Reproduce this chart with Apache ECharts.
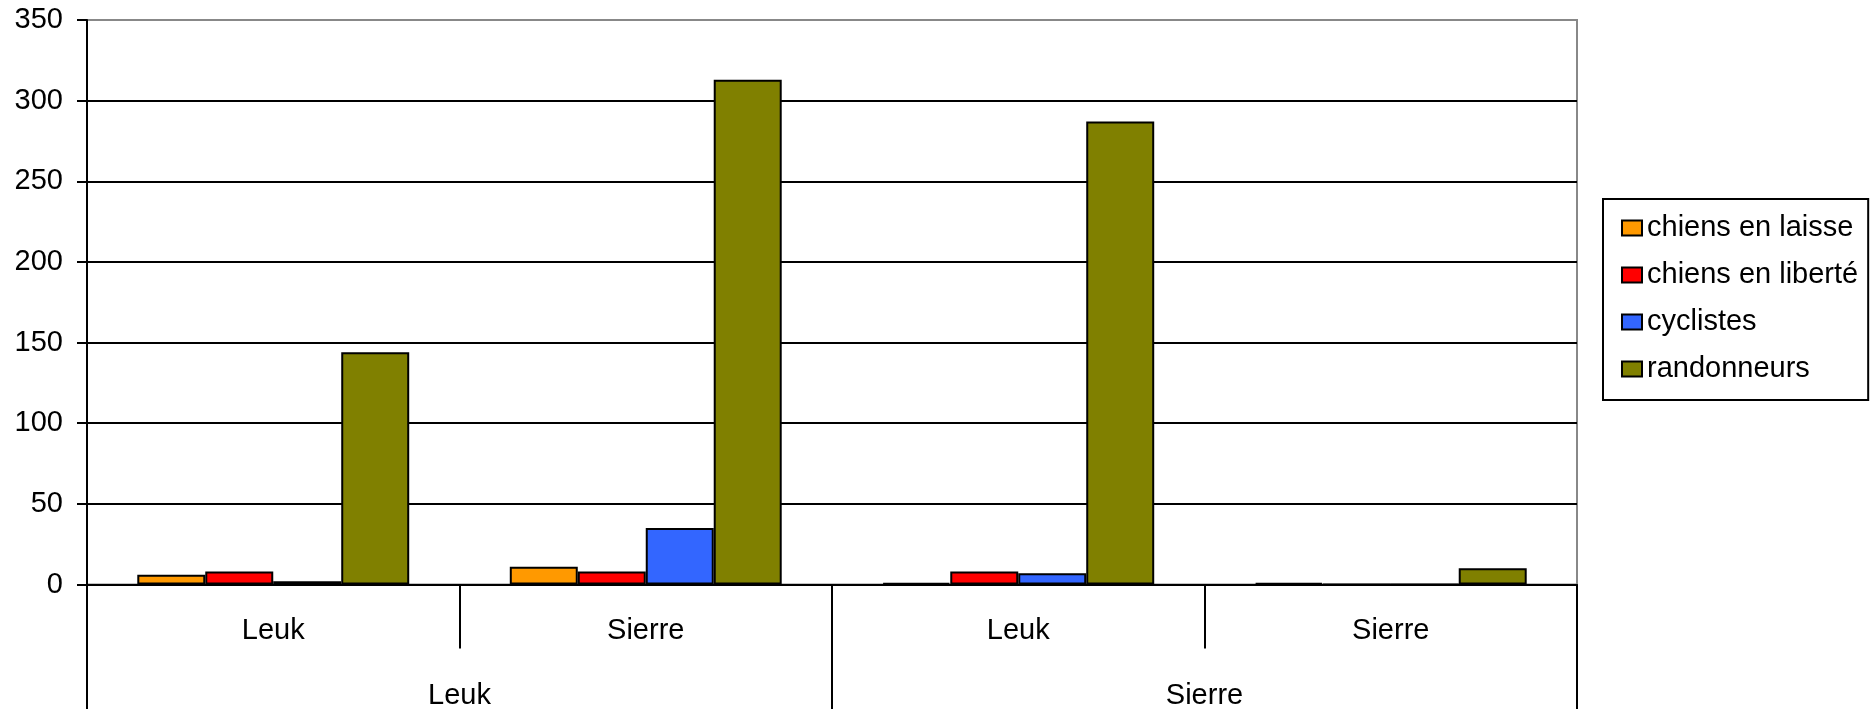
<!DOCTYPE html>
<html>
<head>
<meta charset="utf-8">
<script src="https://cdn.jsdelivr.net/npm/echarts@6/dist/echarts.min.js"></script>
<style>
  html, body { margin: 0; padding: 0; background: #fff; }
  #chart { width: 1870px; height: 710px; }
</style>
</head>
<body>
<div id="chart"></div>
<script>
// Inner (site) categories and outer (group) categories
const innerCategories = ['Leuk', 'Sierre', 'Leuk', 'Sierre'];
const outerCategories = ['Leuk', 'Sierre'];

// Series values
const chiensEnLaisse  = [6, 11, 1, 1];
const chiensEnLiberte = [8, 8, 8, 0];
const cyclistes       = [2, 35, 7, 0];
const randonneurs     = [144, 313, 287, 10];

const seriesNames = ['chiens en laisse', 'chiens en liberté', 'cyclistes', 'randonneurs'];
const seriesData = [chiensEnLaisse, chiensEnLiberte, cyclistes, randonneurs];
const seriesColors = ['#FF9900', '#FF0000', '#3366FF', '#808000'];

// Y axis
const yMin = 0, yMax = 350, yInterval = 50;

const FONT = '"Liberation Sans", Arial, sans-serif';

const chart = echarts.init(document.getElementById('chart'), null, { renderer: 'canvas' });

const option = {
  animation: false,
  backgroundColor: '#ffffff',
  textStyle: { fontFamily: FONT, color: '#000' },
  grid: {
    left: 87, right: 293, top: 20, bottom: 124.4,
    show: true, borderColor: '#888888', borderWidth: 2, backgroundColor: 'transparent'
  },
  legend: {
    orient: 'vertical',
    left: 1603, top: 199,
    padding: [14, 10, 16, 18],
    borderColor: '#000', borderWidth: 2,
    itemWidth: 20, itemHeight: 15,
    itemGap: 17,
    icon: 'rect',
    itemStyle: { borderColor: '#000', borderWidth: 2 },
    textStyle: { fontFamily: FONT, fontSize: 29, color: '#000', lineHeight: 30 },
    data: seriesNames
  },
  xAxis: [
    {
      type: 'category',
      data: innerCategories,
      position: 'bottom',
      boundaryGap: true,
      axisLine: { show: true, lineStyle: { color: '#000', width: 2 } },
      axisTick: { show: true, alignWithLabel: false, length: 64, lineStyle: { color: '#000', width: 2 } },
      axisLabel: { fontFamily: FONT, fontSize: 29, color: '#000', margin: 32, lineHeight: 28 },
      splitLine: { show: false }
    },
    {
      type: 'category',
      data: outerCategories,
      position: 'bottom',
      gridIndex: 0,
      boundaryGap: true,
      axisLine: { show: false },
      axisTick: { show: true, alignWithLabel: false, length: 124.4, lineStyle: { color: '#000', width: 2 } },
      axisLabel: { fontFamily: FONT, fontSize: 29, color: '#000', margin: 97, lineHeight: 28 },
      splitLine: { show: false }
    }
  ],
  yAxis: {
    type: 'value',
    min: yMin, max: yMax, interval: yInterval,
    axisLine: { show: true, lineStyle: { color: '#000', width: 2 } },
    axisTick: { show: true, length: 10, lineStyle: { color: '#000', width: 2 } },
    axisLabel: { fontFamily: FONT, fontSize: 29, color: '#000', margin: 24 },
    splitLine: { show: true, showMinLine: false, showMaxLine: false, lineStyle: { color: '#000', width: 2 } }
  },
  series: seriesNames.map((name, i) => ({
    name: name,
    type: 'bar',
    xAxisIndex: 0,
    data: seriesData[i],
    barGap: '0%',
    barCategoryGap: '27%',
    itemStyle: { color: seriesColors[i], borderColor: '#000', borderWidth: 2 }
  }))
};

chart.setOption(option);
</script>
</body>
</html>
